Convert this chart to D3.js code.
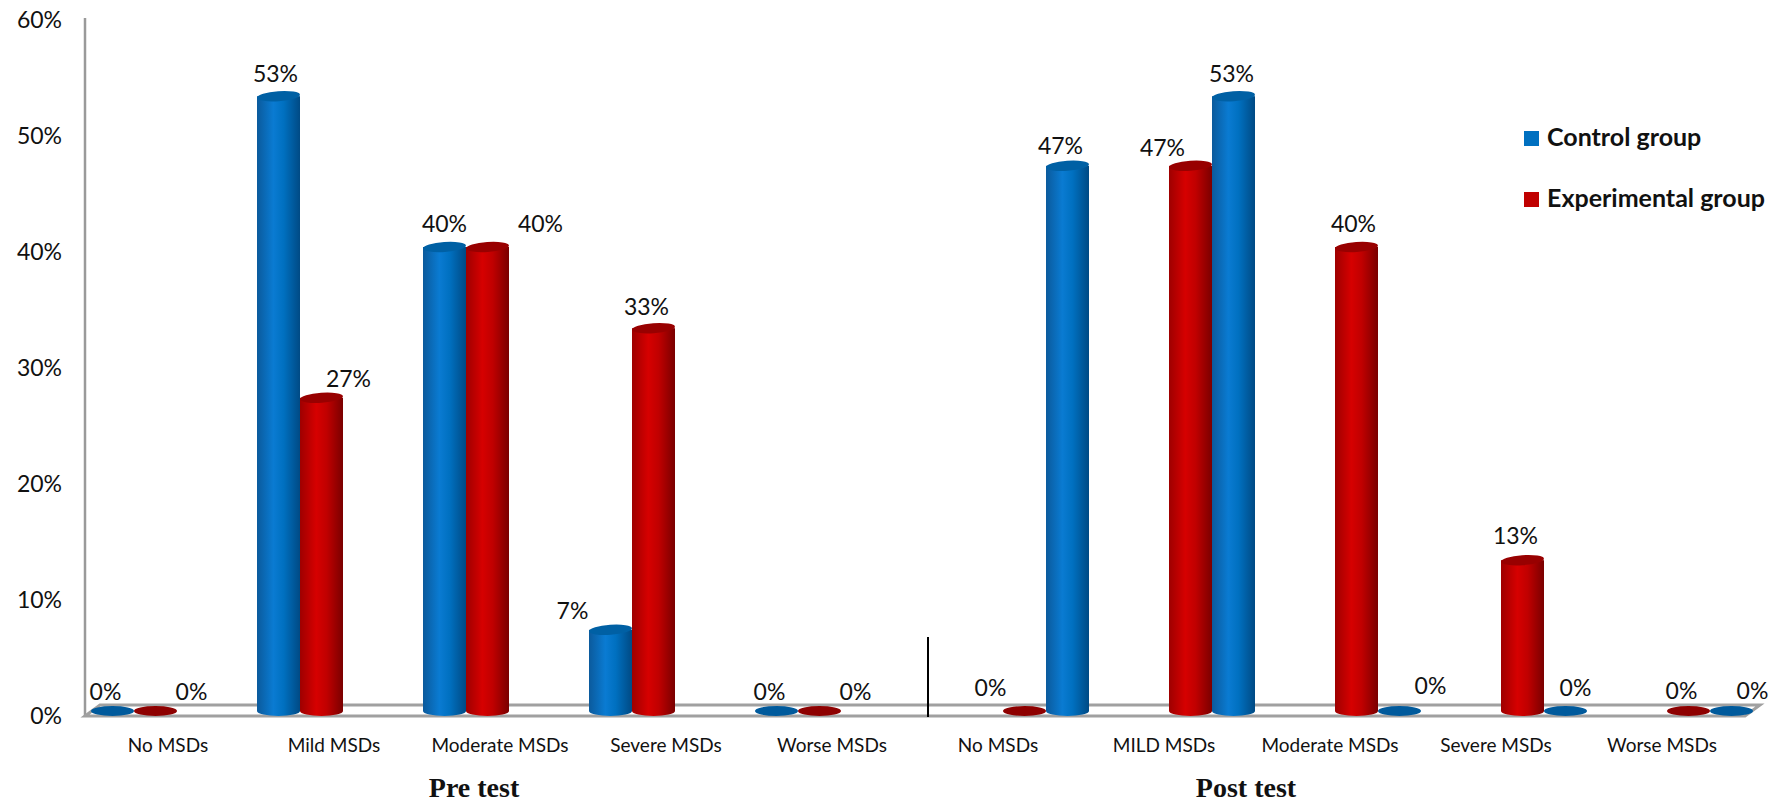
<!DOCTYPE html>
<html>
<head>
<meta charset="utf-8">
<script src="https://cdn.jsdelivr.net/npm/d3@7/dist/d3.min.js"></script>
<style>
  html, body { margin: 0; padding: 0; background: #ffffff; }
  svg { display: block; }
  text { font-family: Lato, "Noto Sans", sans-serif; fill: #111; }
</style>
</head>
<body>
<svg id="chart" width="1784" height="804"></svg>
<script>
// ---------------- data ----------------
const phases = ["Pre test", "Post test"];
const preCategories  = ["No MSDs", "Mild MSDs", "Moderate MSDs", "Severe MSDs", "Worse MSDs"];
const postCategories = ["No MSDs", "MILD MSDs", "Moderate MSDs", "Severe MSDs", "Worse MSDs"];
const preControl       = [0, 53, 40, 7, 0];
const preExperimental  = [0, 27, 40, 33, 0];
const postControl      = [47, 53, 0, 0, 0];
const postExperimental = [0, 47, 40, 13, 0];
const seriesNames = ["Control group", "Experimental group"];
const yTickValues = [0, 10, 20, 30, 40, 50, 60];
const yTickLabels = ["0%", "10%", "20%", "30%", "40%", "50%", "60%"];

// ---------------- layout (not data) ----------------
const W = 1784, H = 804;
const plotLeft = 85, plotRight = 1745, plotTop = 20, floorY = 716;
const depthDx = 15, depthDy = -11;
const barW = 43, capRy = 5, baseShift = -5;
const phaseShift = [-34, 48];               // pair offset from category centre
const phaseOrder = [["c", "e"], ["e", "c"]]; // series drawing order per phase
// label nudges (px) relative to bar centre / bar top
const labelDx = {
  pre:  { c: [-7, -3, 0, -38, -7],  e: [36, 27, 53, -7, 36] },
  post: { c: [-7, -2, 31, 10, 21],  e: [-34, -28, -3, -7, -7] }
};
const labelDy = {
  pre:  { c: [-19, -22, -23, -19, -19], e: [-19, -19, -23, -21, -19] },
  post: { c: [-20, -22, -25, -23, -20], e: [-23, -18, -23, -24, -20] }
};
const colors = {
  c: { stops: ["#0b5a9c", "#0a7bd2", "#0070c0", "#004a84"], cap: "#0060a4", zero: "#005a9c" },
  e: { stops: ["#9e0000", "#d60000", "#c00000", "#7a0000"], cap: "#980000", zero: "#8e0000" }
};

const svg = d3.select("#chart");
const defs = svg.append("defs");
["c", "e"].forEach(k => {
  const g = defs.append("linearGradient").attr("id", "grad-" + k)
    .attr("x1", "0%").attr("x2", "100%").attr("y1", "0%").attr("y2", "0%");
  const offs = ["0%", "38%", "62%", "100%"];
  colors[k].stops.forEach((c, i) => g.append("stop").attr("offset", offs[i]).attr("stop-color", c));
});

// scales
const allCats = d3.range(10);
const x = d3.scaleBand().domain(allCats).range([plotLeft, plotRight]).padding(0);
const y = d3.scaleLinear().domain([0, 60]).range([floorY, plotTop]);

// y axis line
svg.append("line")
  .attr("x1", plotLeft).attr("x2", plotLeft)
  .attr("y1", y(60) - 2).attr("y2", floorY)
  .attr("stroke", "#9a9a9a").attr("stroke-width", 2.5);

// y tick labels via d3 axis
const yAxis = d3.axisLeft(y).tickValues(yTickValues)
  .tickFormat((d, i) => yTickLabels[i]).tickSize(0).tickPadding(0);
const yg = svg.append("g").attr("transform", `translate(${plotLeft - 23},0)`).call(yAxis);
yg.select(".domain").remove();
yg.selectAll("text").style("font-family", "Lato, sans-serif").style("font-size", "23px").attr("fill", "#111");

// floor
const floorPts = [
  [plotLeft, floorY], [plotRight, floorY],
  [plotRight + depthDx, floorY + depthDy], [plotLeft + depthDx, floorY + depthDy]
];
svg.append("polygon")
  .attr("points", floorPts.map(p => p.join(",")).join(" "))
  .attr("fill", "#ffffff").attr("stroke", "#a0a0a0").attr("stroke-width", 3)
  .attr("stroke-linejoin", "miter");

// phase separator
const sepX = x(5) + 13;
svg.append("line").attr("x1", sepX).attr("x2", sepX)
  .attr("y1", y(6.8)).attr("y2", floorY + 1)
  .attr("stroke", "#000").attr("stroke-width", 2);

// bars
const baseY = y(0) + baseShift;
const phaseData = [
  { key: "pre", cats: preCategories, c: preControl, e: preExperimental },
  { key: "post", cats: postCategories, c: postControl, e: postExperimental }
];
const barsG = svg.append("g");
const labelsG = svg.append("g");

phaseData.forEach((ph, pi) => {
  ph.cats.forEach((cat, ci) => {
    const idx = pi * 5 + ci;
    const centre = x(idx) + x.bandwidth() / 2 + phaseShift[pi];
    phaseOrder[pi].forEach((k, si) => {
      const v = ph[k][ci];
      const cx = centre + (si === 0 ? -barW / 2 : barW / 2);
      const top = y(v) + baseShift;
      const g = barsG.append("g");
      if (v > 0) {
        g.append("rect").attr("x", cx - barW / 2).attr("y", top)
          .attr("width", barW).attr("height", baseY - top)
          .attr("fill", `url(#grad-${k})`);
        g.append("ellipse").attr("cx", cx).attr("cy", baseY)
          .attr("rx", barW / 2).attr("ry", capRy).attr("fill", `url(#grad-${k})`);
        g.append("ellipse").attr("cx", cx).attr("cy", top)
          .attr("rx", barW / 2).attr("ry", capRy).attr("fill", colors[k].cap)
          .attr("transform", `rotate(-4,${cx},${top})`);
      } else {
        g.append("ellipse").attr("cx", cx).attr("cy", baseY)
          .attr("rx", barW / 2).attr("ry", capRy).attr("fill", colors[k].zero);
      }
      labelsG.append("text")
        .attr("x", cx + labelDx[ph.key][k][ci])
        .attr("y", top + labelDy[ph.key][k][ci])
        .attr("dy", "0.35em")
        .attr("text-anchor", "middle")
        .style("font-size", "23px")
        .text(v + "%");
    });
  });
});

// category labels (bottom axis)
const allLabels = preCategories.concat(postCategories);
const xAxis = d3.axisBottom(x).tickFormat(i => allLabels[i]).tickSize(0).tickPadding(0);
const xg = svg.append("g").attr("transform", `translate(0,${floorY + 22})`).call(xAxis);
xg.select(".domain").remove();
xg.selectAll("text").style("font-family", "Lato, sans-serif").style("font-size", "19px").attr("fill", "#111");

// phase titles
phases.forEach((p, pi) => {
  const mid = (x(pi * 5 + 2) + x.bandwidth() / 2) + (pi === 0 ? -26 : -84);
  svg.append("text").attr("x", mid).attr("y", 797)
    .attr("text-anchor", "middle")
    .style("font-family", "'Liberation Serif', 'Times New Roman', serif")
    .style("font-weight", "bold").style("font-size", "28px")
    .text(p);
});

// legend
const legend = svg.append("g").attr("transform", "translate(1524,131)");
seriesNames.forEach((n, i) => {
  const k = i === 0 ? "c" : "e";
  const gy = i * 61;
  legend.append("rect").attr("x", 0).attr("y", gy).attr("width", 15).attr("height", 15)
    .attr("fill", k === "c" ? "#0070c0" : "#c00000");
  legend.append("text").attr("x", 23).attr("y", gy + 15)
    .style("font-weight", "bold").style("font-size", "25px")
    .text(n);
});
</script>
</body>
</html>
